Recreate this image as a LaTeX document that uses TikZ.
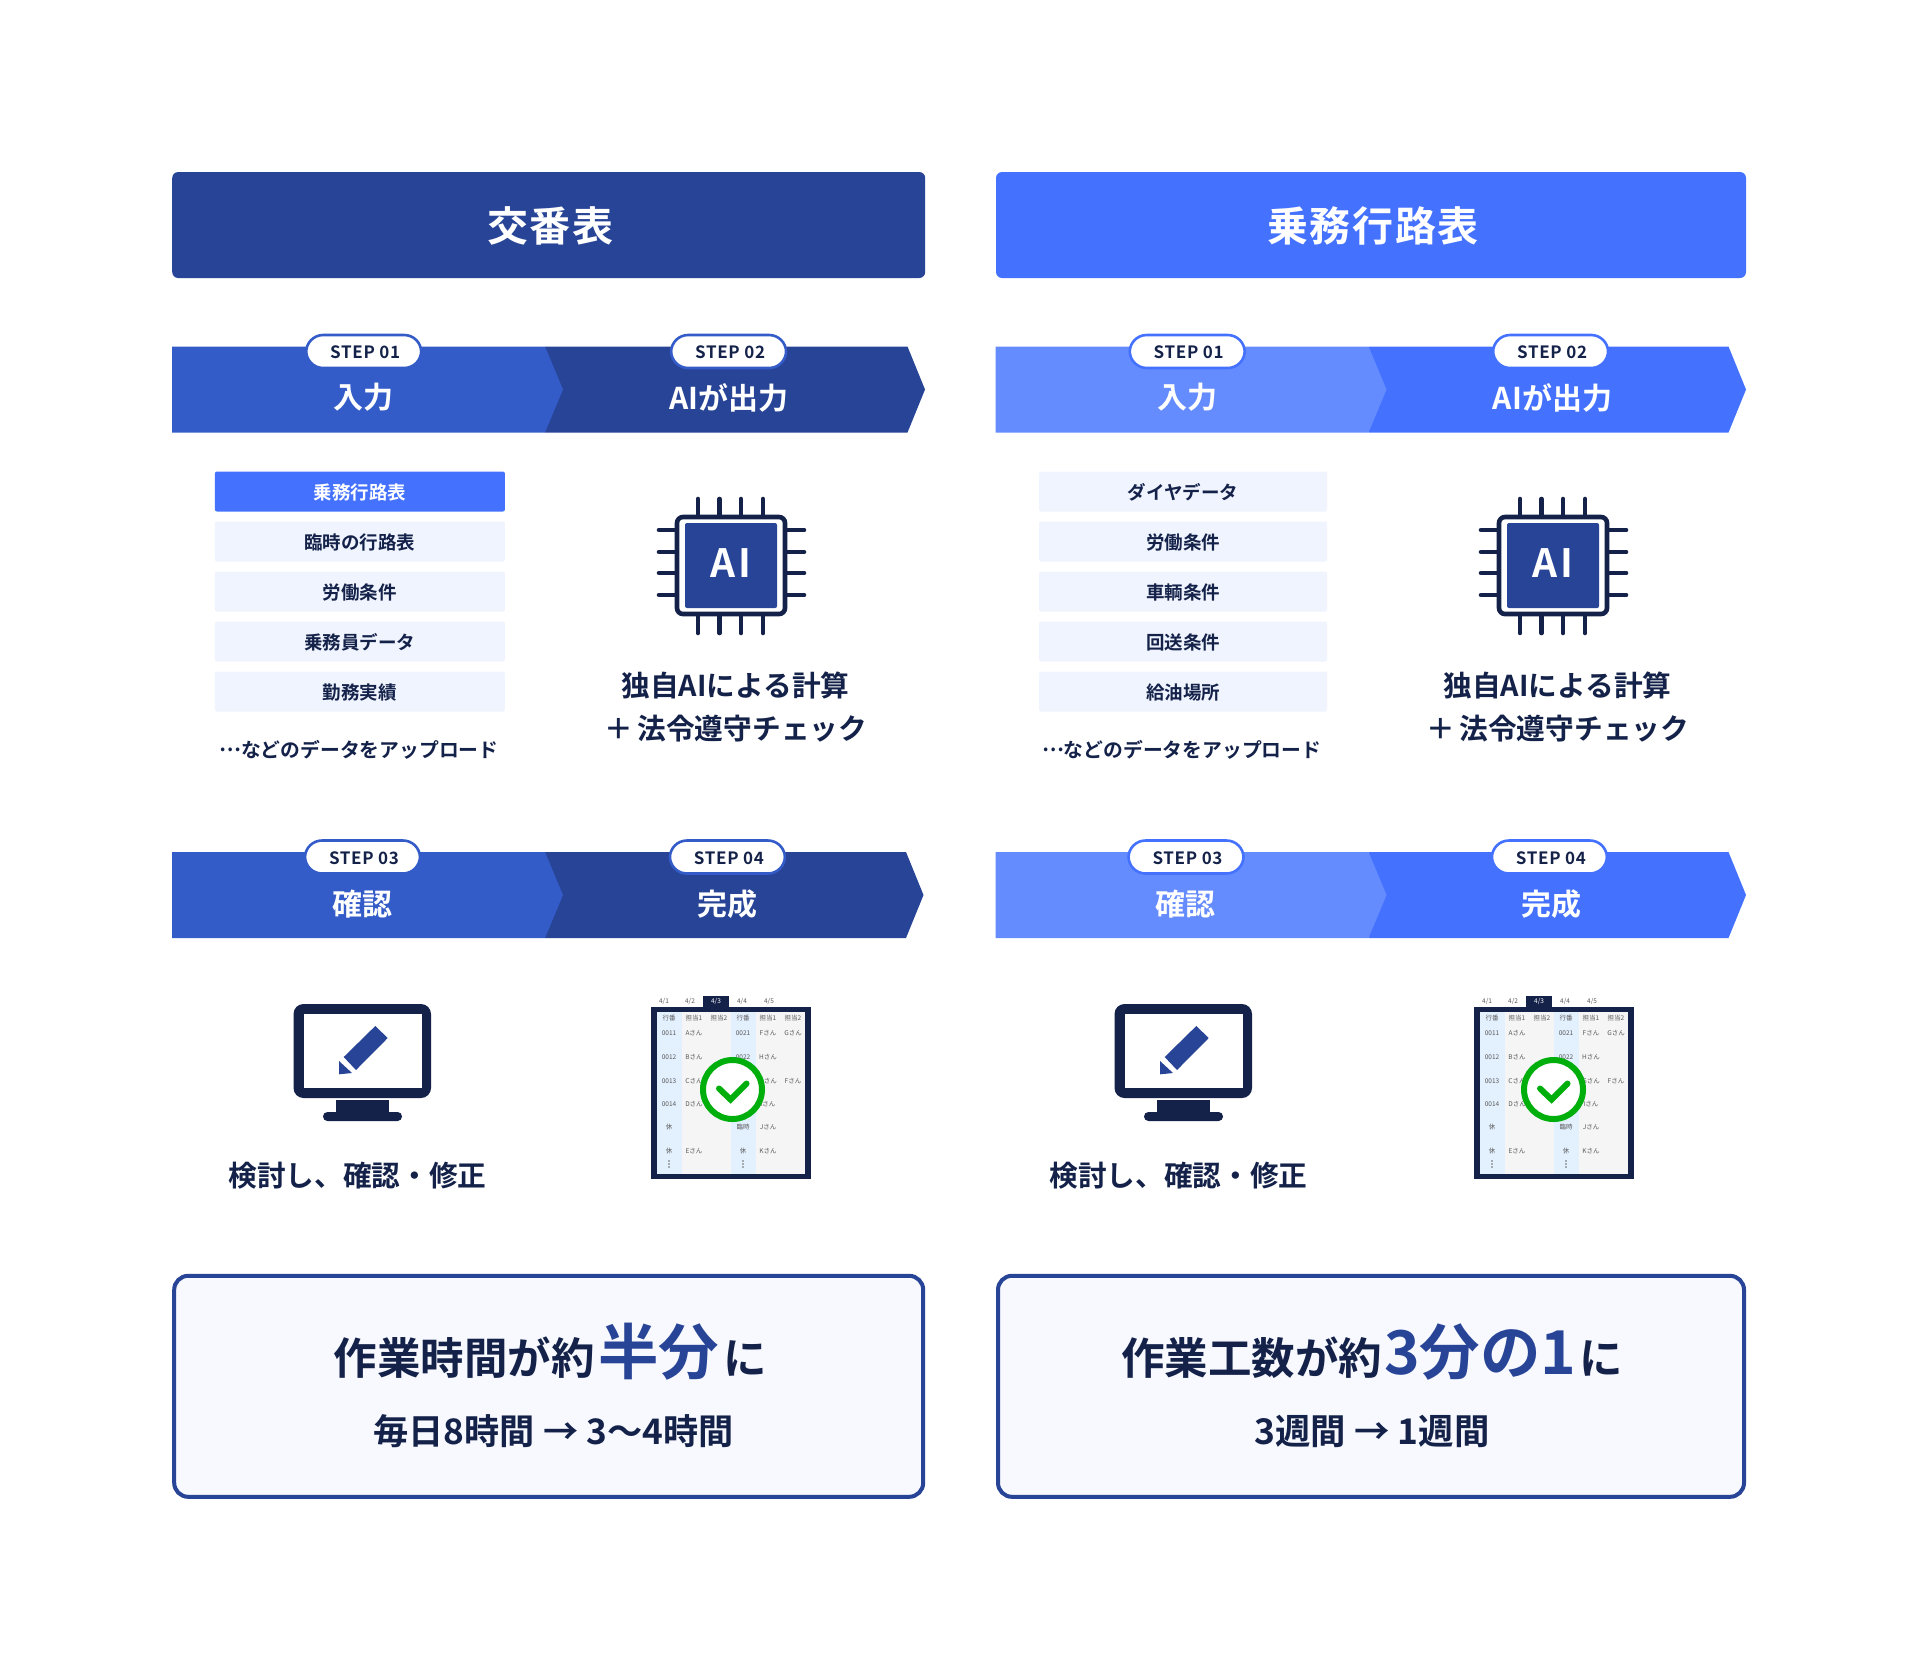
\documentclass[tikz,border=0pt]{standalone}
\usepackage{fontspec}
\setmainfont{Noto Sans CJK JP}[BoldFont={Noto Sans CJK JP Bold}]
\usetikzlibrary{calc}
\definecolor{navy}{HTML}{14224A}
\definecolor{deep}{HTML}{274496}
\definecolor{bright}{HTML}{4472FF}
\definecolor{midblue}{HTML}{345CC9}
\definecolor{lightblue}{HTML}{658CFF}
\definecolor{rowbg}{HTML}{F0F4FE}
\definecolor{boxbg}{HTML}{F7F9FF}
\definecolor{okgreen}{HTML}{00AE0C}
\definecolor{colblue}{HTML}{E3F0FE}
\definecolor{colgrey}{HTML}{F5F5F5}
\newcommand{\fpx}[1]{\fontsize{\fpeval{#1/2}pt}{\fpeval{#1/2}pt}\selectfont}
\tikzset{
  txt/.style={inner sep=0pt,outer sep=0pt,text=navy,font=\bfseries},
  pill/.style={line width=1.3pt,fill=white,rounded corners=8.5pt,minimum width=57.5pt,minimum height=16.5pt,inner sep=0pt,text=navy,font=\bfseries\fpx{17},text height=7.2pt,text depth=0pt},
  listrow/.style={fill=rowbg,rounded corners=1pt,minimum height=20pt,inner sep=0pt,text=navy,font=\bfseries\fpx{18.5},text height=9.1pt,text depth=1.1pt},
  head/.style={rounded corners=3pt,minimum height=53pt,inner sep=0pt,text=white,font=\bfseries\fpx{41},text height=19pt,text depth=2.5pt},
  tiny/.style={inner sep=0pt,text=black!65,font=\fpx{6.5}},
  result/.style={draw=deep,line width=2pt,fill=boxbg,rounded corners=7pt,inner sep=0pt}
}
\newcommand{\steptxt}[1]{\addfontfeatures{LetterSpace=4}\hspace*{1.5pt}#1}
% band: y-top, dx of labels, dark colour, light colour, pill border, texts
\newcommand{\stepband}[9]{%
  \fill[#3] (545,#1) -- (907.5+\tipdx,#1) -- (925+\tipdx,#1+43) -- (907.5+\tipdx,#1+86) -- (545,#1+86) -- cycle;
  \fill[#4] (172,#1) -- (545,#1) -- (563,#1+43) -- (545,#1+86) -- (172,#1+86) -- cycle;
  \node[pill,draw=#5] (a) at (363.7+#2,#1+5) {\steptxt{#6}};
  \node[pill,draw=#5] (b) at (728.6+#2+\bdx,#1+5) {\steptxt{#8}};
  \node[txt,text=white,font=\bfseries\fpx{30}] (c) at (363.5+#2,#1+\lbdy) {#7};
  \node[txt,text=white,font=\bfseries\fpx{30}] (d) at (729+#2,#1+\lbdy) {#9};
}
\newcommand{\chipicon}{%
  \foreach \p in {698,719.5,741,763}{
    \draw[navy,line width=2.3pt,line cap=round] (\p,499) -- (\p,515);
    \draw[navy,line width=2.3pt,line cap=round] (\p,616) -- (\p,633);}
  \foreach \p in {530,552,573,595}{
    \draw[navy,line width=2.3pt,line cap=round] (659,\p) -- (675,\p);
    \draw[navy,line width=2.3pt,line cap=round] (786,\p) -- (804,\p);}
  \draw[navy,line width=2.3pt,fill=white,rounded corners=3pt] (677,517) rectangle (785,614);
  \fill[deep,rounded corners=1pt] (685,523) rectangle (777,608);
  \node[txt,text=white,font=\bfseries\fpx{39},anchor=base] (ai) at (731,577.5) {\addfontfeatures{LetterSpace=8}AI};
  \node[txt,font=\bfseries\fpx{28.7}] (aione) at (735.5,685) {独自AIによる計算};
  \node[txt,font=\bfseries\fpx{28.7}] (aitwo) at (736,728.5) {＋\hspace{2pt}法令遵守チェック};
}
\newcommand{\monitor}{%
  \fill[navy,rounded corners=5pt] (293.5,1004) rectangle (431,1098);
  \fill[white] (303.5,1014) rectangle (422,1088);
  \fill[navy] (336,1100) rectangle (389,1113);
  \fill[navy,rounded corners=2.2pt] (323,1112) rectangle (402,1121);
  \fill[deep] (375.3,1026) -- (387.7,1038) -- (356,1070) -- (343.7,1057) -- cycle;
  \fill[deep] (339,1061) -- (352,1073) -- (339,1074.3) -- cycle;
}
\newcommand{\tableicon}{%
  \fill[navy] (703,996) rectangle (729,1007);
  \node[tiny] (t1) at (664,1001) {4/1};
  \node[tiny] (t2) at (690,1001) {4/2};
  \node[tiny,text=white] (t3) at (716,1001) {4/3};
  \node[tiny] (t4) at (742,1001) {4/4};
  \node[tiny] (t5) at (769,1001) {4/5};
  \fill[navy] (651,1007) rectangle (811,1179);
  \fill[colgrey] (657,1012) rectangle (805,1174);
  \fill[colblue] (657,1012) rectangle (682,1174);
  \fill[colblue] (731,1012) rectangle (756,1174);
  \node[tiny] (h1) at (669,1018) {行番};
  \node[tiny] (h2) at (694,1018) {担当1};
  \node[tiny] (h3) at (719,1018) {担当2};
  \node[tiny] (h4) at (743,1018) {行番};
  \node[tiny] (h5) at (768,1018) {担当1};
  \node[tiny] (h6) at (793,1018) {担当2};
  \node[tiny] (c1) at (669,1033) {0011};
  \node[tiny] (c2) at (694,1033) {Aさん};
  \node[tiny] (c3) at (743,1033) {0021};
  \node[tiny] (c4) at (768,1033) {Fさん};
  \node[tiny] (c5) at (793,1033) {Gさん};
  \node[tiny] (c6) at (669,1057) {0012};
  \node[tiny] (c7) at (694,1057) {Bさん};
  \node[tiny] (c8) at (743,1057) {0022};
  \node[tiny] (c9) at (768,1057) {Hさん};
  \node[tiny] (c10) at (669,1081) {0013};
  \node[tiny] (c11) at (694,1081) {Cさん};
  \node[tiny] (c12) at (768,1081) {Gさん};
  \node[tiny] (c13) at (793,1081) {Fさん};
  \node[tiny] (c14) at (669,1104) {0014};
  \node[tiny] (c15) at (694,1104) {Dさん};
  \node[tiny] (c16) at (768,1104) {Iさん};
  \node[tiny] (c17) at (669,1127) {休};
  \node[tiny] (c18) at (743,1127) {臨時};
  \node[tiny] (c19) at (768,1127) {Jさん};
  \node[tiny] (c20) at (669,1151) {休};
  \node[tiny] (c21) at (694,1151) {Eさん};
  \node[tiny] (c22) at (743,1151) {休};
  \node[tiny] (c23) at (768,1151) {Kさん};
  \foreach \cx in {669,743}{\foreach \cy in {1161,1164,1167}{\fill[black!60] (\cx,\cy) circle (0.45pt);}}
  \draw[okgreen,line width=3pt,fill=white] (733+\ringdx,1089.5) circle (29.5);
  \draw[okgreen,line width=3pt,line cap=round,line join=miter] (719.5+\ringdx,1088.5) -- (731+\ringdx,1099.5) -- (747+\ringdx,1083.5);
}
\newcommand{\upload}{\raisebox{0.32em}{…}などのデータをアップロード}
\begin{document}
\begin{tikzpicture}[x=0.5pt,y=-0.5pt]
\useasboundingbox (0,0) rectangle (1920,1672);
\fill[white] (0,0) rectangle (1920,1672);
% ---- left panel
\node[head,fill=deep,minimum width=376.5pt] (lhead) at (548.7,225) {\hspace*{1.5pt}\addfontfeatures{LetterSpace=4}交番表};
\def\tipdx{0}\def\bdx{0}\def\lbdy{51}\def\ringdx{-0.5}
\begin{scope}[name prefix=l1-] \stepband{346.5}{0}{deep}{midblue}{midblue}{STEP 01}{入力}{STEP 02}{AIが出力} \end{scope}
\node[listrow,minimum width=145pt,fill=bright,text=white] (l-a) at (359.9,491.5) {乗務行路表};
\node[listrow,minimum width=145pt] (l-b) at (359.9,541.5) {臨時の行路表};
\node[listrow,minimum width=145pt] (l-c) at (359.9,591.5) {労働条件};
\node[listrow,minimum width=145pt] (l-d) at (359.9,641.5) {乗務員データ};
\node[listrow,minimum width=145pt] (l-e) at (359.9,691.5) {勤務実績};
\node[txt,font=\bfseries\fpx{19.8}] (l-f) at (358.8,750) {\upload};
\begin{scope}[name prefix=l2-] \chipicon \end{scope}
\def\tipdx{-1.5}\def\lbdy{52}
\begin{scope}[name prefix=l3-] \stepband{852}{-1.2}{deep}{midblue}{midblue}{STEP 03}{確認}{STEP 04}{完成} \end{scope}
\begin{scope}[name prefix=l4-] \monitor \tableicon \end{scope}
\node[txt,font=\bfseries\fpx{28.7}] (lmon) at (357.5,1176) {検討し、確認・修正};
\node[result,minimum width=374.5pt,minimum height=110.5pt] (lres) at (548.7,1386.3) {};
\node[txt,font=\bfseries\fpx{43.5},anchor=base west] (lres1) at (333.5,1374) {作業時間が約};
\node[txt,text=deep,font=\bfseries\fpx{60.5},anchor=base west] (lres2) at (598,1374) {半分};
\node[txt,font=\bfseries\fpx{43.5},anchor=base west] (lres3) at (723.5,1374) {に};
\node[txt,font=\bfseries\fpx{35.2}] (lres4) at (553.5,1431.5) {毎日8時間 → 3〜4時間};
% ---- right panel
\node[head,fill=bright,minimum width=375pt] (rhead) at (1371,225) {\hspace*{2pt}\addfontfeatures{LetterSpace=4}乗務行路表};
\def\tipdx{-2.5}\def\bdx{-1.5}\def\lbdy{51}\def\ringdx{-2.5}
\begin{scope}[xshift=411.75pt,name prefix=r1-] \stepband{346.5}{0}{bright}{lightblue}{bright}{STEP 01}{入力}{STEP 02}{AIが出力} \end{scope}
\node[listrow,minimum width=144pt] (r-a) at (1183.1,491.5) {ダイヤデータ};
\node[listrow,minimum width=144pt] (r-b) at (1183.1,541.5) {労働条件};
\node[listrow,minimum width=144pt] (r-c) at (1183.1,591.5) {車輌条件};
\node[listrow,minimum width=144pt] (r-d) at (1183.1,641.5) {回送条件};
\node[listrow,minimum width=144pt] (r-e) at (1183.1,691.5) {給油場所};
\node[txt,font=\bfseries\fpx{19.8}] (r-f) at (1181.6,750) {\upload};
\begin{scope}[xshift=411pt,name prefix=r2-] \chipicon \end{scope}
\def\lbdy{52}
\begin{scope}[xshift=411.75pt,name prefix=r3-] \stepband{852}{-1.2}{bright}{lightblue}{bright}{STEP 03}{確認}{STEP 04}{完成} \end{scope}
\begin{scope}[xshift=410.5pt,name prefix=r4-] \monitor \end{scope}
\node[txt,font=\bfseries\fpx{28.7}] (rmon) at (1178.5,1176) {検討し、確認・修正};
\begin{scope}[xshift=411.5pt,name prefix=r5-] \tableicon \end{scope}
\node[result,minimum width=373pt,minimum height=110.5pt] (rres) at (1371,1386.3) {};
\node[txt,font=\bfseries\fpx{43.5},anchor=base west] (rres1) at (1121,1374) {作業工数が約};
\node[txt,text=deep,font=\bfseries\fpx{60.5},anchor=base west] (rres2) at (1384,1374) {3分の1};
\node[txt,font=\bfseries\fpx{43.5},anchor=base west] (rres3) at (1579.5,1374) {に};
\node[txt,font=\bfseries\fpx{35.4}] (rres4) at (1372,1431.5) {3週間 → 1週間};
\end{tikzpicture}
\end{document}
